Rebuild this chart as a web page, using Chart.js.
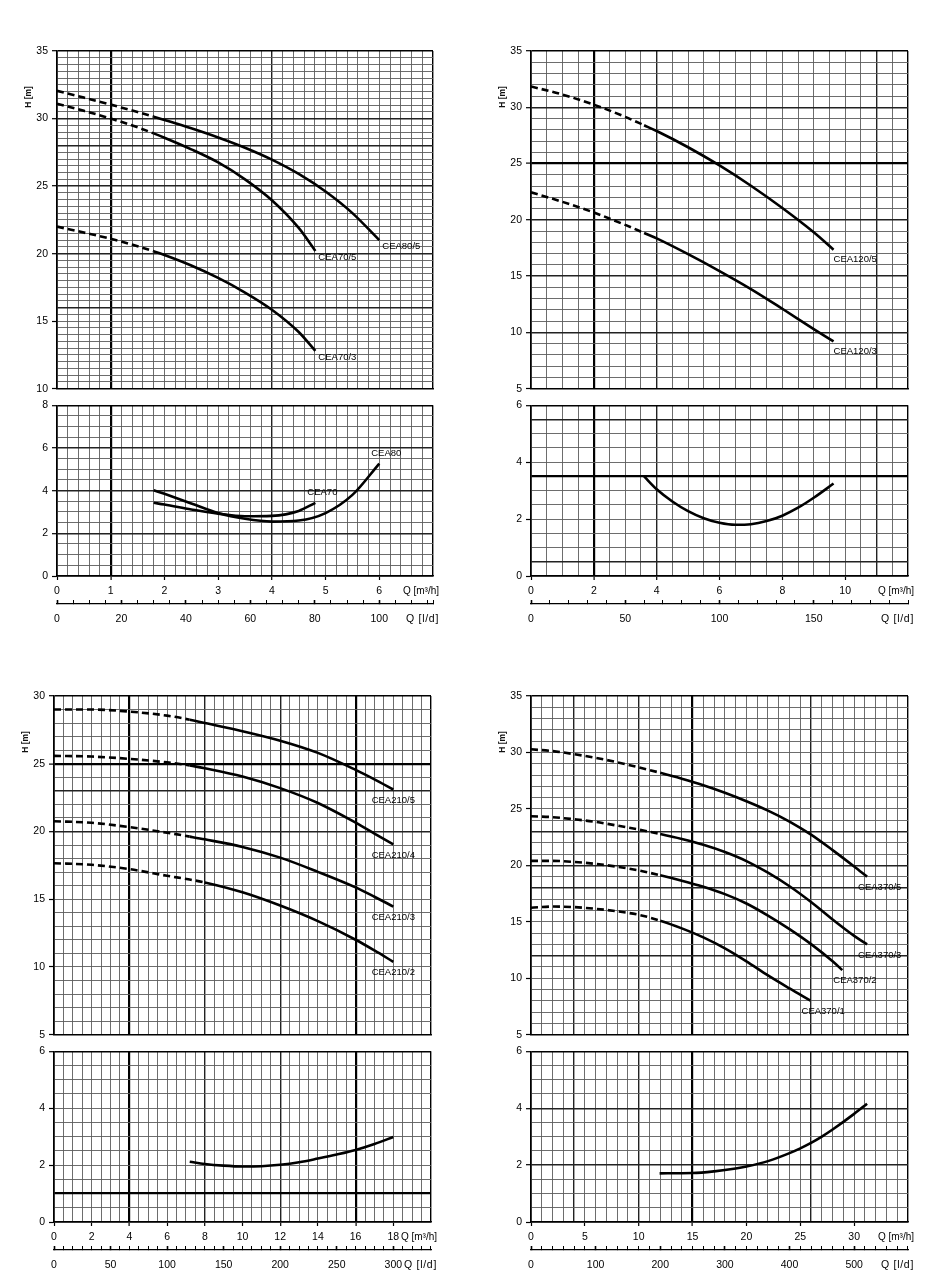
<!DOCTYPE html>
<html><head><meta charset="utf-8">
<script src="https://cdn.jsdelivr.net/npm/chart.js@4/dist/chart.umd.min.js"></script>
<style>
html,body{margin:0;padding:0;background:#fff;}
body{width:940px;height:1284px;position:relative;overflow:hidden;}
canvas{position:absolute;}
</style></head><body>
<script>
// ================= DATA =================
// Panel 1 : CEA70 / CEA80  (Q in m3/h)
const p1Q80 = [0, 0.5, 1, 1.5, 1.8, 2, 2.5, 3, 3.5, 4, 4.5, 5, 5.5, 6];
const p1H80_5 = [32.05, 31.55, 31.03, 30.48, 30.14, 29.9, 29.28, 28.6, 27.84, 26.96, 25.9, 24.6, 23.0, 21.0];
const p1Q70 = [0, 0.5, 1, 1.5, 1.8, 2, 2.5, 3, 3.5, 4, 4.5, 4.81];
const p1H70_5 = [31.1, 30.57, 30.0, 29.35, 28.9, 28.58, 27.72, 26.75, 25.5, 23.95, 21.9, 20.2];
const p1H70_3 = [22.0, 21.56, 21.1, 20.55, 20.17, 19.9, 19.12, 18.2, 17.12, 15.85, 14.2, 12.8];
const p1NQ70 = [1.8, 2, 2.5, 3, 3.5, 4, 4.5, 4.81];
const p1N70 = [3.43, 3.35, 3.12, 2.92, 2.8, 2.82, 3.05, 3.43];
const p1NQ80 = [1.8, 2, 2.5, 3, 3.5, 4, 4.5, 5, 5.5, 6];
const p1N80 = [4.02, 3.85, 3.4, 2.95, 2.68, 2.55, 2.6, 2.95, 3.8, 5.27];

// Panel 2 : CEA120
const p2Q = [0, 1, 2, 3, 3.6, 4, 5, 6, 7, 8, 9, 9.63];
const p2H120_5 = [31.85, 31.13, 30.23, 29.15, 28.4, 27.89, 26.45, 24.83, 23.03, 21.05, 18.89, 17.35];
const p2H120_3 = [22.45, 21.6, 20.65, 19.55, 18.83, 18.35, 16.95, 15.45, 13.85, 12.1, 10.3, 9.2];
const p2NQ = [3.6, 4, 4.5, 5, 5.5, 6, 6.5, 7, 7.5, 8, 8.5, 9, 9.63];
const p2N = [3.5, 3.05, 2.62, 2.28, 2.03, 1.87, 1.8, 1.82, 1.93, 2.12, 2.4, 2.75, 3.25];

// Panel 3 : CEA210
const p3Q = [0, 2, 4, 6, 7.2, 8, 10, 12, 14, 16, 17, 18];
const p3H210_5 = [29.0, 29.0, 28.85, 28.55, 28.25, 28.0, 27.4, 26.7, 25.8, 24.55, 23.85, 23.1];
const p3H210_4 = [25.58, 25.53, 25.36, 25.1, 24.88, 24.67, 24.06, 23.2, 22.1, 20.65, 19.85, 19.05];
const p3H210_3 = [20.76, 20.64, 20.32, 19.91, 19.62, 19.42, 18.86, 18.07, 17.02, 15.87, 15.18, 14.46];
const p3H210_2 = [17.66, 17.54, 17.22, 16.73, 16.45, 16.24, 15.51, 14.53, 13.38, 12.01, 11.22, 10.38];
const p3NQ = [7.2, 8, 9, 10, 11, 12, 13, 14, 15, 16, 17, 18];
const p3N = [2.12, 2.04, 1.98, 1.95, 1.96, 2.01, 2.1, 2.23, 2.37, 2.53, 2.74, 2.99];

// Panel 4 : CEA370
const p4Q = [0, 2, 4, 6, 8, 10, 12, 14, 16, 18, 20, 22, 24, 26, 28, 30, 31.2];
const p4H370_5 = [30.28, 30.12, 29.85, 29.52, 29.13, 28.68, 28.2, 27.68, 27.1, 26.43, 25.68, 24.85, 23.88, 22.72, 21.35, 19.9, 19.0];
const p4H370_3 = [24.35, 24.27, 24.08, 23.85, 23.52, 23.17, 22.78, 22.34, 21.82, 21.18, 20.38, 19.35, 18.15, 16.75, 15.2, 13.75, 13.0];
const p4Q370_2 = [0, 2, 4, 6, 8, 10, 12, 14, 16, 18, 20, 22, 24, 26, 28, 28.9];
const p4H370_2 = [20.4, 20.4, 20.3, 20.13, 19.88, 19.55, 19.12, 18.64, 18.1, 17.45, 16.62, 15.55, 14.35, 13.02, 11.5, 10.72];
const p4Q370_1 = [0, 2, 4, 6, 8, 10, 12, 14, 16, 18, 20, 22, 24, 25.95];
const p4H370_1 = [16.25, 16.35, 16.3, 16.15, 15.93, 15.62, 15.1, 14.42, 13.62, 12.65, 11.5, 10.25, 9.1, 8.02];
const p4NQ = [11.94, 15, 17, 19, 20, 22, 24, 25, 26, 27, 28, 30, 31.2];
const p4N = [1.71, 1.72, 1.78, 1.88, 1.95, 2.14, 2.42, 2.59, 2.78, 3.0, 3.25, 3.8, 4.16];

// Tick labels
const p1XLabels = [0, 1, 2, 3, 4, 5, 6];
const p1LdLabels = [0, 20, 40, 60, 80, 100];
const p1HLabels = [10, 15, 20, 25, 30, 35];
const p1NLabels = [0, 2, 4, 6, 8];
const p2XLabels = [0, 2, 4, 6, 8, 10];
const p2LdLabels = [0, 50, 100, 150];
const p2HLabels = [5, 10, 15, 20, 25, 30, 35];
const p2NLabels = [0, 2, 4, 6];
const p3XLabels = [0, 2, 4, 6, 8, 10, 12, 14, 16, 18];
const p3LdLabels = [0, 50, 100, 150, 200, 250, 300];
const p3HLabels = [5, 10, 15, 20, 25, 30];
const p3NLabels = [0, 2, 4, 6];
const p4XLabels = [0, 5, 10, 15, 20, 25, 30];
const p4LdLabels = [0, 100, 200, 300, 400, 500];
const p4HLabels = [5, 10, 15, 20, 25, 30, 35];
const p4NLabels = [0, 2, 4, 6];

// ================= LAYOUT / STYLE =================
const FONT = '"Liberation Sans", Arial, Helvetica, sans-serif';
const LPD = 50 / 3; // l/d per m3/h on the secondary scale

const PANELS = [
  { L:57, R:433, T:51, B:391, bT:405, bB:576,
    xMax:7, xStep:0.2, xLabels:p1XLabels, x2Minor:5, x2Labels:p1LdLabels,
    hMin:10, hMax:35, hStep:0.5, hLabels:p1HLabels, nMax:8, nStep:0.5, nLabels:p1NLabels,
    vHeavy:[1], vMed:[4], hHeavy:[], hMed:[30,28,25,20,16], nHeavy:[], nMed:[2,4,6],
    top:[{label:'CEA80/5', q:p1Q80, v:p1H80_5, dash:1.8},
         {label:'CEA70/5', q:p1Q70, v:p1H70_5, dash:1.8},
         {label:'CEA70/3', q:p1Q70, v:p1H70_3, dash:1.8}],
    bot:[{label:'CEA70', q:p1NQ70, v:p1N70}, {label:'CEA80', q:p1NQ80, v:p1N80}],
    topLab:{dx:3, dy:2, align:'left', base:'top'}, botLab:{dx:7, dy:-10, align:'center', base:'middle'} },
  { L:531, R:908, T:51, B:391, bT:405, bB:576,
    xMax:12, xStep:0.5, xLabels:p2XLabels, x2Minor:10, x2Labels:p2LdLabels,
    hMin:5, hMax:35, hStep:1, hLabels:p2HLabels, nMax:6, nStep:0.5, nLabels:p2NLabels,
    vHeavy:[2], vMed:[4, 11], hHeavy:[25], hMed:[30,20,15,10], nHeavy:[3.5], nMed:[0.5,5.5],
    top:[{label:'CEA120/5', q:p2Q, v:p2H120_5, dash:3.6},
         {label:'CEA120/3', q:p2Q, v:p2H120_3, dash:3.6}],
    bot:[{label:'', q:p2NQ, v:p2N}],
    topLab:{dx:0, dy:5, align:'left', base:'top'}, botLab:{dx:0, dy:0, align:'left', base:'top'} },
  { L:54, R:431, T:696, B:1037, bT:1051, bB:1222,
    xMax:20, xStep:0.5, xLabels:p3XLabels, x2Minor:25/3, x2Labels:p3LdLabels,
    hMin:5, hMax:30, hStep:1, hLabels:p3HLabels, nMax:6, nStep:0.5, nLabels:p3NLabels,
    vHeavy:[4,16], vMed:[8,12], hHeavy:[25], hMed:[23,20], nHeavy:[1], nMed:[],
    top:[{label:'CEA210/5', q:p3Q, v:p3H210_5, dash:7.2},
         {label:'CEA210/4', q:p3Q, v:p3H210_4, dash:7.2},
         {label:'CEA210/3', q:p3Q, v:p3H210_3, dash:7.2},
         {label:'CEA210/2', q:p3Q, v:p3H210_2, dash:8}],
    bot:[{label:'', q:p3NQ, v:p3N}],
    topLab:{dx:0, dy:6, align:'center', base:'top'}, botLab:{dx:0, dy:0, align:'left', base:'top'} },
  { L:531, R:908, T:696, B:1037, bT:1051, bB:1222,
    xMax:35, xStep:1, xLabels:p4XLabels, x2Minor:50/3, x2Labels:p4LdLabels,
    hMin:5, hMax:35, hStep:1, hLabels:p4HLabels, nMax:6, nStep:0.5, nLabels:p4NLabels,
    vHeavy:[15], vMed:[4,10,26], hHeavy:[], hMed:[23,20,18,12], nHeavy:[], nMed:[2,4],
    top:[{label:'CEA370/5', q:p4Q, v:p4H370_5, dash:12},
         {label:'CEA370/3', q:p4Q, v:p4H370_3, dash:12},
         {label:'CEA370/2', q:p4Q370_2, v:p4H370_2, dash:12},
         {label:'CEA370/1', q:p4Q370_1, v:p4H370_1, dash:12}],
    bot:[{label:'', q:p4NQ, v:p4N}],
    topLab:{dx:-9, dy:6, align:'left', base:'top'}, botLab:{dx:0, dy:0, align:'left', base:'top'} }
];

// ================= HELPERS =================
const has = (arr, v) => arr.some(a => Math.abs(a - v) < 1e-4);
function steps(min, max, step) {
  const a = []; const n = Math.floor((max - min) / step + 1e-6);
  for (let i = 0; i <= n; i++) a.push(+(min + i * step).toFixed(6));
  if (Math.abs(a[a.length - 1] - max) > 1e-4) a.push(max);
  return a;
}
const fmt = v => String(Math.round(v * 100) / 100);
function gStyle(v, heavy, med, edge) {
  if (v === undefined) return {c:'#5c5c5c', w:0.9};
  if (has(heavy, v)) return {c:'#000', w:2.2};
  if (has(med, v)) return {c:'#222', w:1.4};
  if (Math.abs(v - edge) < 1e-4) return {c:'#000', w:1.4};
  return {c:'#5c5c5c', w:0.9};
}
function addCanvas(x, y, w, h) {
  const c = document.createElement('canvas');
  c.width = w; c.height = h;
  c.style.left = x + 'px'; c.style.top = y + 'px';
  c.style.width = w + 'px'; c.style.height = h + 'px';
  document.body.appendChild(c); return c;
}
function curveDS(c) {
  return {
    label: c.label,
    data: c.q.map((x, i) => ({x, y: c.v[i]})),
    borderColor: '#000', borderWidth: 2.6, pointRadius: 0, fill: false,
    cubicInterpolationMode: 'monotone',
    segment: { borderDash: ctx => (c.dash !== undefined && c.q[ctx.p1DataIndex] <= c.dash + 1e-9) ? [7, 4] : undefined }
  };
}
const tickFont = {family: FONT, size: 10.5};
function yScale(min, max, step, labels, heavy, med, yW) {
  const tv = steps(min, max, step);
  return {
    type: 'linear', position: 'left', min, max,
    afterBuildTicks: s => { s.ticks = tv.map(v => ({value: v})); },
    afterFit: s => { s.width = yW; },
    ticks: {autoSkip: false, padding: 4, color: '#000', font: tickFont,
      callback: v => has(labels, v) ? fmt(v) : ''},
    grid: {drawTicks: true, tickLength: 5,
      color: ctx => gStyle(ctx.tick && ctx.tick.value, heavy, med, max).c,
      lineWidth: ctx => gStyle(ctx.tick && ctx.tick.value, heavy, med, max).w,
      tickColor: ctx => (ctx.tick && has(labels, ctx.tick.value)) ? '#000' : 'rgba(0,0,0,0)',
      tickWidth: 1.2},
    border: {display: true, color: '#000', width: 1.5}
  };
}
function xScale(P, bottom) {
  const tv = steps(0, P.xMax, P.xStep);
  return {
    type: 'linear', position: 'bottom', min: 0, max: P.xMax, weight: 0,
    afterBuildTicks: s => { s.ticks = tv.map(v => ({value: v})); },
    afterFit: s => { s.height = bottom ? 28 : 0; },
    ticks: {display: bottom, autoSkip: false, maxRotation: 0, minRotation: 0, padding: 5,
      color: '#000', font: tickFont, callback: v => has(P.xLabels, v) ? fmt(v) : ''},
    grid: {drawTicks: bottom, tickLength: 4,
      color: ctx => gStyle(ctx.tick && ctx.tick.value, P.vHeavy, P.vMed, P.xMax).c,
      lineWidth: ctx => gStyle(ctx.tick && ctx.tick.value, P.vHeavy, P.vMed, P.xMax).w,
      tickColor: ctx => (ctx.tick && has(P.xLabels, ctx.tick.value)) ? '#000' : 'rgba(0,0,0,0)',
      tickWidth: 1.2},
    border: {display: true, color: '#000', width: 1.5}
  };
}
function x2Scale(P) {
  const max = P.xMax * LPD;
  const tv = steps(0, max, P.x2Minor);
  return {
    type: 'linear', position: 'bottom', min: 0, max, weight: 1,
    afterBuildTicks: s => { s.ticks = tv.map(v => ({value: v})); },
    afterFit: s => { s.height = 26; },
    ticks: {autoSkip: false, maxRotation: 0, minRotation: 0, padding: 13,
      color: '#000', font: tickFont, callback: v => has(P.x2Labels, v) ? fmt(v) : ''},
    grid: {display: true, drawOnChartArea: false, drawTicks: true, tickLength: -4,
      color: '#000', tickColor: '#000',
      tickWidth: ctx => (ctx.tick && has(P.x2Labels, ctx.tick.value)) ? 1.6 : 1},
    border: {display: true, color: '#000', width: 1.2}
  };
}
function labelPlugin(spec) {
  return { id: 'curveLabels', afterDatasetsDraw(chart) {
    const ctx = chart.ctx; ctx.save();
    ctx.font = '9.5px ' + FONT; ctx.fillStyle = '#000';
    ctx.textAlign = spec.align; ctx.textBaseline = spec.base;
    chart.data.datasets.forEach((ds, i) => {
      if (!ds.label) return;
      const pts = chart.getDatasetMeta(i).data; const p = pts[pts.length - 1];
      ctx.fillText(ds.label, p.x + spec.dx, p.y + spec.dy);
    });
    ctx.restore();
  }};
}
const hTitle = { id: 'hTitle', afterDraw(chart) {
  const {ctx, chartArea: a} = chart; ctx.save();
  ctx.translate(a.left - 28, a.top + 46); ctx.rotate(-Math.PI / 2);
  ctx.font = 'bold 8.5px ' + FONT; ctx.textAlign = 'center'; ctx.textBaseline = 'middle';
  ctx.fillStyle = '#111'; ctx.fillText('H [m]', 0, 0); ctx.restore();
}};
const qTitles = { id: 'qTitles', afterDraw(chart) {
  const {ctx, chartArea: a} = chart; ctx.save();
  ctx.fillStyle = '#000'; ctx.textAlign = 'right'; ctx.textBaseline = 'middle';
  ctx.font = '10px ' + FONT; ctx.fillText('Q [m³/h]', a.right + 6, a.bottom + 15);
  ctx.font = '10.5px ' + FONT; try { ctx.letterSpacing = '0.7px'; } catch (e) {}
  ctx.fillText('Q [l/d]', a.right + 6, a.bottom + 43);
  ctx.restore();
}};

const YW = 52, RP = 28;
function buildPanel(P) {
  // ---- upper H(Q) chart
  const tTP = 20, tBP = 8;
  const cx = P.L - YW, cy = P.T - tTP;
  const c1 = addCanvas(cx, cy, P.R - cx + RP, P.B - cy + tBP);
  new Chart(c1, {
    type: 'line',
    data: {datasets: P.top.map(curveDS)},
    options: {
      responsive: false, animation: false, events: [],
      layout: {padding: {left: 0, right: RP, top: tTP, bottom: tBP}},
      plugins: {legend: {display: false}, tooltip: {enabled: false}},
      scales: {
        x: xScale(P, false),
        y: yScale(P.hMin, P.hMax, P.hStep, P.hLabels, P.hHeavy, P.hMed, YW)
      }
    },
    plugins: [labelPlugin(P.topLab), hTitle]
  });
  // ---- lower NPSH chart with the two Q axes
  const bTP = 10, bBP = 6;
  const cy2 = P.bT - bTP;
  const c2 = addCanvas(cx, cy2, P.R - cx + RP, P.bB - cy2 + 28 + 26 + bBP);
  new Chart(c2, {
    type: 'line',
    data: {datasets: P.bot.map(curveDS)},
    options: {
      responsive: false, animation: false, events: [],
      layout: {padding: {left: 0, right: RP, top: bTP, bottom: bBP}},
      plugins: {legend: {display: false}, tooltip: {enabled: false}},
      scales: {
        x: xScale(P, true),
        x2: x2Scale(P),
        y: yScale(0, P.nMax, P.nStep, P.nLabels, P.nHeavy, P.nMed, YW)
      }
    },
    plugins: [labelPlugin(P.botLab), qTitles]
  });
}
PANELS.forEach(buildPanel);
</script>
</body></html>
